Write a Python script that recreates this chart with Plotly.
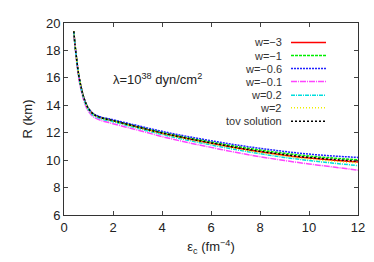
import plotly.graph_objects as go

eps_c = [0.4, 0.45, 0.5, 0.6, 0.7, 0.8, 0.9, 1.0, 1.2, 1.5, 2, 2.5, 3, 4, 5, 6, 7, 8, 9, 10, 11, 12]

r_w_m3 = [19.4, 18.4, 17.6, 16.2, 15.3, 14.6, 14.1, 13.75, 13.35, 13.1, 12.87, 12.64, 12.41, 11.96, 11.58, 11.23, 10.9, 10.61, 10.36, 10.15, 10.0, 9.87]
r_w_m1 = [19.4, 18.4, 17.6, 16.2, 15.3, 14.6, 14.1, 13.76, 13.37, 13.12, 12.9, 12.68, 12.46, 12.03, 11.66, 11.33, 11.01, 10.74, 10.5, 10.3, 10.15, 10.03]
r_w_m06 = [19.4, 18.4, 17.6, 16.21, 15.31, 14.61, 14.12, 13.77, 13.39, 13.15, 12.95, 12.73, 12.52, 12.1, 11.74, 11.42, 11.12, 10.86, 10.63, 10.44, 10.3, 10.2]
r_w_m01 = [19.3, 18.3, 17.45, 16.0, 15.1, 14.4, 13.9, 13.55, 13.15, 12.9, 12.66, 12.42, 12.2, 11.72, 11.3, 10.93, 10.57, 10.25, 9.97, 9.72, 9.5, 9.27]
r_w_02 = [19.35, 18.35, 17.55, 16.12, 15.22, 14.52, 14.02, 13.67, 13.27, 13.02, 12.8, 12.56, 12.33, 11.87, 11.47, 11.11, 10.77, 10.47, 10.2, 9.97, 9.78, 9.6]
r_w_2 = [19.4, 18.4, 17.6, 16.18, 15.28, 14.58, 14.08, 13.72, 13.32, 13.07, 12.84, 12.61, 12.38, 11.93, 11.54, 11.19, 10.86, 10.56, 10.3, 10.08, 9.92, 9.8]
r_tov = [19.4, 18.4, 17.6, 16.2, 15.3, 14.6, 14.1, 13.75, 13.35, 13.1, 12.88, 12.65, 12.42, 11.98, 11.6, 11.26, 10.93, 10.65, 10.4, 10.2, 10.05, 9.93]

labels = ["w=\u22123", "w=\u22121", "w=\u22120.6", "w=\u22120.1", "w=0.2", "w=2", "tov solution"]
series = [r_w_m3, r_w_m1, r_w_m06, r_w_m01, r_w_02, r_w_2, r_tov]
colors = ["#ff0000", "#00ee00", "#2020ff", "#ff44ff", "#00dddd", "#eeee00", "#000000"]
dashes = ["solid", "3px,1px", "2px,1px", "6px,1px,1px,1px", "4px,1px,1px,1px", "1px,2px", "2px,2px"]

fig = go.Figure()
for lab, ys, c, d in zip(labels, series, colors, dashes):
    fig.add_trace(go.Scatter(x=eps_c, y=ys, mode="lines", name=lab,
                             line=dict(color=c, width=1.5, dash=d, shape="spline"),
                             showlegend=False))

W, H = 294.0, 191.4
def px2paper(px, py):
    return (px - 56) / W, (207 - py) / H

row_y = [35, 48, 61, 74, 87.5, 100, 113.5]
annotations = []
shapes = []
for lab, c, d, py in zip(labels, colors, dashes, row_y):
    tx, ty = px2paper(276, py)
    annotations.append(dict(x=tx, y=ty, xref="paper", yref="paper", text=lab,
                            showarrow=False, xanchor="right", yanchor="middle",
                            font=dict(size=11, color="#333333")))
    x0, y0 = px2paper(283, py)
    x1, _ = px2paper(318, py)
    shapes.append(dict(type="line", xref="paper", yref="paper", x0=x0, x1=x1, y0=y0, y1=y0,
                       line=dict(color=c, width=1.5, dash=d)))

lx, ly = px2paper(103, 71)
annotations.append(dict(x=lx, y=ly, xref="paper", yref="paper",
                        text="\u03bb=10<sup>38</sup> dyn/cm<sup>2</sup>",
                        showarrow=False, xanchor="left", yanchor="middle",
                        font=dict(size=13, color="#222222")))

fig.update_layout(
    width=374, height=262,
    margin=dict(l=56, r=24, t=15, b=55, autoexpand=False),
    paper_bgcolor="white", plot_bgcolor="white",
    font=dict(family="Liberation Sans, Arial, sans-serif", size=12, color="#222222"),
    annotations=annotations, shapes=shapes,
    showlegend=False,
)
fig.update_xaxes(range=[0, 12], tickvals=[0, 2, 4, 6, 8, 10, 12], ticks="inside", ticklen=4,
                 showline=True, linecolor="#333333", linewidth=1, mirror="allticks",
                 showgrid=False, zeroline=False, tickfont=dict(size=13),
                 title=dict(text="\u03b5<sub>c</sub> (fm<sup>\u22124</sup>)", font=dict(size=13), standoff=8))
fig.update_yaxes(range=[6, 20], tickvals=[6, 8, 10, 12, 14, 16, 18, 20], ticks="inside", ticklen=4,
                 showline=True, linecolor="#333333", linewidth=1, mirror="allticks",
                 showgrid=False, zeroline=False, tickfont=dict(size=13),
                 title=dict(text="R (km)", font=dict(size=13), standoff=10))

fig.write_html("out.html")
